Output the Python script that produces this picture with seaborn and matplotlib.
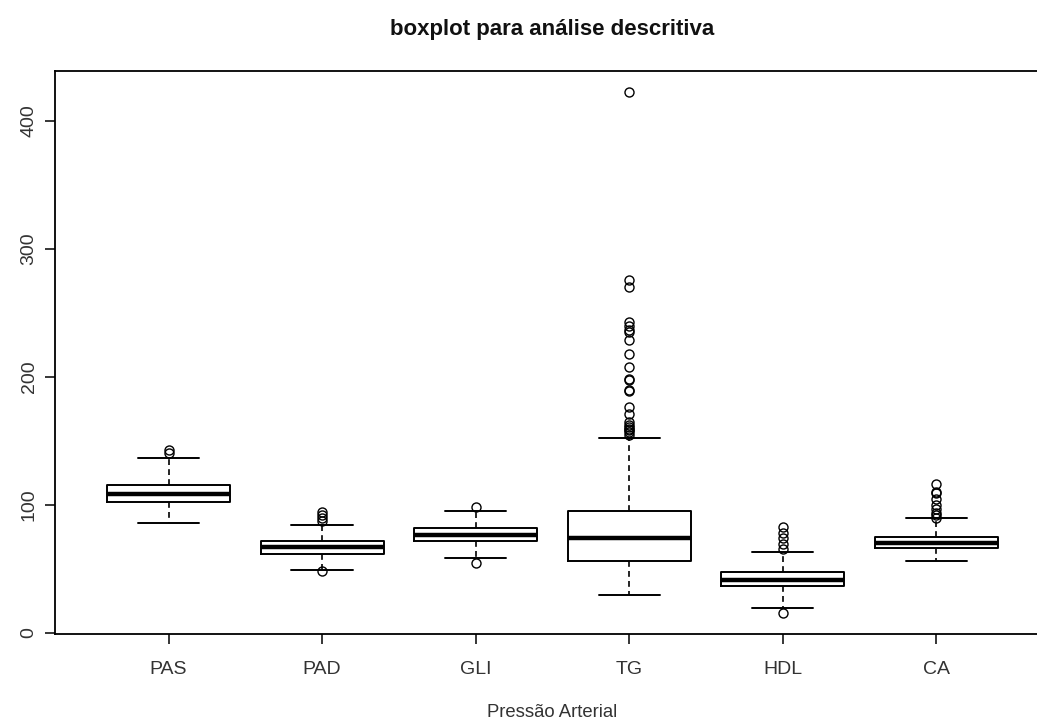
import matplotlib
matplotlib.use("Agg")
import matplotlib.pyplot as plt
import seaborn as sns

# box summaries
labels = ["PAS", "PAD", "GLI", "TG", "HDL", "CA"]
q1 = [102.2, 62.1, 71.6, 56.5, 36.4, 66.3]
med = [108.8, 66.9, 76.4, 74.4, 41.2, 70.1]
q3 = [115.8, 71.6, 81.8, 95.4, 47.8, 75.2]
whislo = [86.0, 49.3, 58.8, 29.5, 19.4, 56.1]
whishi = [136.7, 84.5, 95.5, 152.7, 63.6, 89.6]

out_pas = [140.4, 143.0]
out_pad = [48.8, 87.5, 90.0, 91.9, 94.9]
out_gli = [54.9, 98.5]
out_tg = [422.7, 276.0, 270.0, 243.0, 240.0, 237.0, 235.0, 229.0, 217.6, 208.0,
          198.5, 197.6, 189.6, 188.7, 176.7, 170.7, 164.8, 162.7, 161.2, 159.7,
          158.2, 156.7, 155.0]
out_hdl = [15.8, 65.7, 69.3, 74.0, 78.2, 83.0]
out_ca = [90.1, 91.9, 94.0, 97.0, 100.0, 105.0, 109.0, 110.4, 116.4]
outliers = [out_pas, out_pad, out_gli, out_tg, out_hdl, out_ca]

yticks = [0, 100, 200, 300, 400]

sns.set_theme(style="white")
plt.rcParams['font.family'] = ['Liberation Sans', 'DejaVu Sans']

fig = plt.figure(figsize=(10.37, 7.22), dpi=100)
ax = fig.add_axes([0.053, 0.1224, 0.9595, 0.7792])

stats = []
for i, lab in enumerate(labels):
    stats.append(dict(label=lab, q1=q1[i], med=med[i], q3=q3[i],
                      whislo=whislo[i], whishi=whishi[i], fliers=outliers[i]))

ax.bxp(stats, positions=range(1, len(labels) + 1), widths=0.8, capwidths=0.4,
       boxprops=dict(color='black', lw=1.4),
       medianprops=dict(color='black', lw=3.2),
       whiskerprops=dict(color='black', lw=1.2, linestyle=(0, (3.5, 2.5))),
       capprops=dict(color='black', lw=1.4),
       flierprops=dict(marker='o', markerfacecolor='none', markeredgecolor='black',
                       markersize=6.5, markeredgewidth=1.0))

ax.set_xlim(0.26, 6.74)
ax.set_ylim(-0.48, 439)
ax.set_yticks(yticks)
ax.set_yticklabels([str(t) for t in yticks])
ax.tick_params(axis='both', direction='out', length=7.5, width=1.1, color='black',
               labelsize=14, labelcolor='#333333', bottom=True, left=True)
ax.tick_params(axis='x', pad=12)
ax.tick_params(axis='y', pad=5, labelrotation=90)
for lab in ax.get_yticklabels():
    lab.set_va('center')
for s in ax.spines.values():
    s.set_visible(True)
    s.set_color('black')
    s.set_linewidth(1.3)
ax.grid(False)

fig.text(0.532, 0.9515, "boxplot para análise descritiva", ha='center', va='baseline',
         fontsize=16, fontweight='bold', color='#111111')
fig.text(0.532, 0.007, "Pressão Arterial", ha='center', va='baseline',
         fontsize=13.3, color='#333333')

fig.savefig("out.png", dpi=100)
